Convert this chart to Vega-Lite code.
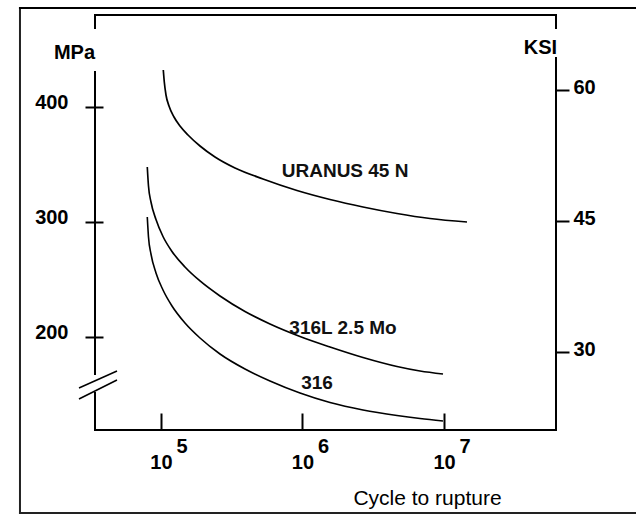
{
  "$schema": "https://vega.github.io/schema/vega-lite/v6.json",
  "autosize": {"type": "none"},
  "width": 461,
  "height": 430,
  "padding": {"left": 95, "top": 0, "right": 80, "bottom": 85},
  "background": "white",
  "config": {
    "view": {"stroke": null},
    "axis": {"grid": false, "domain": false, "labelFont": "Liberation Sans", "titleFont": "Liberation Sans", "labelColor": "#000", "titleColor": "#000", "tickColor": "#000", "tickWidth": 2, "labelFlush": false, "labelOverlap": false}
  },
  "datasets": {
    "curves": [
      {"alloy": "URANUS 45 N", "cycles": 103810, "MPa": 432.17},
      {"alloy": "URANUS 45 N", "cycles": 105520, "MPa": 421.74},
      {"alloy": "URANUS 45 N", "cycles": 108480, "MPa": 410.43},
      {"alloy": "URANUS 45 N", "cycles": 113910, "MPa": 400.87},
      {"alloy": "URANUS 45 N", "cycles": 123560, "MPa": 391.3},
      {"alloy": "URANUS 45 N", "cycles": 136230, "MPa": 383.48},
      {"alloy": "URANUS 45 N", "cycles": 155140, "MPa": 375.65},
      {"alloy": "URANUS 45 N", "cycles": 188660, "MPa": 366.09},
      {"alloy": "URANUS 45 N", "cycles": 240770, "MPa": 356.52},
      {"alloy": "URANUS 45 N", "cycles": 333430, "MPa": 346.96},
      {"alloy": "URANUS 45 N", "cycles": 525850, "MPa": 337.39},
      {"alloy": "URANUS 45 N", "cycles": 914400, "MPa": 327.39},
      {"alloy": "URANUS 45 N", "cycles": 1564400, "MPa": 319.57},
      {"alloy": "URANUS 45 N", "cycles": 2676300, "MPa": 313.04},
      {"alloy": "URANUS 45 N", "cycles": 4654000, "MPa": 307.39},
      {"alloy": "URANUS 45 N", "cycles": 7962100, "MPa": 303.04},
      {"alloy": "URANUS 45 N", "cycles": 14539000, "MPa": 300.0},
      {"alloy": "316L 2.5 Mo", "cycles": 80010, "MPa": 347.83},
      {"alloy": "316L 2.5 Mo", "cycles": 81590, "MPa": 331.3},
      {"alloy": "316L 2.5 Mo", "cycles": 84970, "MPa": 317.39},
      {"alloy": "316L 2.5 Mo", "cycles": 92180, "MPa": 302.17},
      {"alloy": "316L 2.5 Mo", "cycles": 103310, "MPa": 287.39},
      {"alloy": "316L 2.5 Mo", "cycles": 119600, "MPa": 274.35},
      {"alloy": "316L 2.5 Mo", "cycles": 147760, "MPa": 260.87},
      {"alloy": "316L 2.5 Mo", "cycles": 188660, "MPa": 248.7},
      {"alloy": "316L 2.5 Mo", "cycles": 261190, "MPa": 235.65},
      {"alloy": "316L 2.5 Mo", "cycles": 392300, "MPa": 222.17},
      {"alloy": "316L 2.5 Mo", "cycles": 589260, "MPa": 211.3},
      {"alloy": "316L 2.5 Mo", "cycles": 960140, "MPa": 200.43},
      {"alloy": "316L 2.5 Mo", "cycles": 1564400, "MPa": 191.3},
      {"alloy": "316L 2.5 Mo", "cycles": 2676300, "MPa": 182.17},
      {"alloy": "316L 2.5 Mo", "cycles": 4654000, "MPa": 174.35},
      {"alloy": "316L 2.5 Mo", "cycles": 6766800, "MPa": 170.43},
      {"alloy": "316L 2.5 Mo", "cycles": 9838600, "MPa": 167.83},
      {"alloy": "316", "cycles": 80010, "MPa": 304.35},
      {"alloy": "316", "cycles": 81590, "MPa": 286.96},
      {"alloy": "316", "cycles": 84970, "MPa": 272.17},
      {"alloy": "316", "cycles": 92180, "MPa": 255.65},
      {"alloy": "316", "cycles": 103310, "MPa": 240.87},
      {"alloy": "316", "cycles": 119600, "MPa": 226.96},
      {"alloy": "316", "cycles": 147760, "MPa": 212.17},
      {"alloy": "316", "cycles": 188660, "MPa": 199.13},
      {"alloy": "316", "cycles": 261190, "MPa": 185.22},
      {"alloy": "316", "cycles": 392300, "MPa": 172.17},
      {"alloy": "316", "cycles": 589260, "MPa": 161.74},
      {"alloy": "316", "cycles": 960140, "MPa": 151.3},
      {"alloy": "316", "cycles": 1564400, "MPa": 143.04},
      {"alloy": "316", "cycles": 2676300, "MPa": 136.52},
      {"alloy": "316", "cycles": 4654000, "MPa": 131.74},
      {"alloy": "316", "cycles": 6766800, "MPa": 129.13},
      {"alloy": "316", "cycles": 9838600, "MPa": 126.96}
    ],
    "labels": [
      {"label": "URANUS 45 N", "cycles": 2000000, "MPa": 344.3},
      {"label": "316L 2.5 Mo", "cycles": 1933000, "MPa": 207.8},
      {"label": "316", "cycles": 1266000, "MPa": 160.0}
    ],
    "exponents": [
      {"exp": "5", "cycles": 100000, "MPa": 104.3},
      {"exp": "6", "cycles": 1000000, "MPa": 104.3},
      {"exp": "7", "cycles": 10000000, "MPa": 104.3}
    ],
    "outer": [
      {"cycles": 10081, "cycles2": 10081, "MPa": 486.0, "MPa2": 46.96},
      {"cycles": 10081, "cycles2": 250000000, "MPa": 486.0, "MPa2": 486.0},
      {"cycles": 10081, "cycles2": 250000000, "MPa": 46.96, "MPa2": 46.96}
    ],
    "inner": [
      {"cycles": 34170, "cycles2": 61870000, "MPa": 480, "MPa2": 480},
      {"cycles": 34170, "cycles2": 61870000, "MPa": 119.13, "MPa2": 119.13},
      {"cycles": 34170, "cycles2": 34170, "MPa": 480, "MPa2": 468.7},
      {"cycles": 34170, "cycles2": 34170, "MPa": 430.4, "MPa2": 167.8},
      {"cycles": 34170, "cycles2": 34170, "MPa": 151.3, "MPa2": 119.13}
    ],
    "breaks": [
      {"cycles": 26330, "cycles2": 48870, "MPa": 155.65, "MPa2": 170.4},
      {"cycles": 26330, "cycles2": 48870, "MPa": 146.1, "MPa2": 162.6}
    ],
    "rightAxis": [
      {"cycles": 61870000, "cycles2": 61870000, "KSI": 68.59, "KSI2": 67.1},
      {"cycles": 61870000, "cycles2": 61870000, "KSI": 63.66, "KSI2": 21.07},
      {"cycles": 10081, "cycles2": 250000000, "KSI": 69.39, "KSI2": 69.39}
    ]
  },
  "encoding": {
    "x": {"field": "cycles", "type": "quantitative", "scale": {"type": "log", "domain": [34170, 61870000], "nice": false},
      "axis": {"values": [100000, 1000000, 10000000], "orient": "bottom", "offset": -17, "tickSize": 17, "labelExpr": "'10'", "labelFontSize": 20, "labelFontWeight": "bold", "labelBaseline": "middle", "labelPadding": 32, "labelDx": -3,
        "title": "Cycle to rupture", "titleFontSize": 21, "titleFontWeight": "normal", "titleX": 332, "titleY": 85, "titleBaseline": "middle", "titleAlign": "center"}}
  },
  "layer": [
    {
      "encoding": {
        "y": {"field": "MPa", "type": "quantitative", "scale": {"domain": [119.13, 493.04], "nice": false, "zero": false},
          "axis": {"values": [200, 300, 400], "orient": "left", "offset": -8, "tickSize": 18, "labelFontSize": 20, "labelFontWeight": "bold", "labelPadding": 17, "labelBaseline": "middle", "labelOffset": -4,
            "title": "MPa", "titleAngle": 0, "titleFontSize": 20, "titleFontWeight": "bold", "titleX": -29, "titleY": 52, "titleAlign": "center", "titleBaseline": "middle"}}
      },
      "layer": [
        {
          "data": {"name": "outer"},
          "mark": {"type": "rule", "stroke": "#222", "strokeWidth": 2, "strokeCap": "square"},
          "encoding": {"x2": {"field": "cycles2"}, "y2": {"field": "MPa2"}}
        },
        {
          "data": {"name": "inner"},
          "mark": {"type": "rule", "stroke": "#000", "strokeWidth": 2, "strokeCap": "square"},
          "encoding": {"x2": {"field": "cycles2"}, "y2": {"field": "MPa2"}}
        },
        {
          "data": {"name": "breaks"},
          "mark": {"type": "rule", "stroke": "#000", "strokeWidth": 1.5},
          "encoding": {"x2": {"field": "cycles2"}, "y2": {"field": "MPa2"}}
        },
        {
          "data": {"name": "curves"},
          "mark": {"type": "line", "interpolate": "monotone", "color": "#000"},
          "encoding": {
            "detail": {"field": "alloy", "type": "nominal"},
            "strokeWidth": {"field": "alloy", "type": "nominal", "scale": {"domain": ["URANUS 45 N", "316L 2.5 Mo", "316"], "range": [1.7, 1.6, 3.2]}, "legend": null}
          }
        },
        {
          "data": {"name": "labels"},
          "mark": {"type": "text", "font": "Liberation Sans", "fontSize": 19, "fontWeight": "bold", "color": "#111", "align": "center", "baseline": "middle"},
          "encoding": {"text": {"field": "label"}}
        },
        {
          "data": {"name": "exponents"},
          "mark": {"type": "text", "font": "Liberation Sans", "fontSize": 20, "fontWeight": "bold", "color": "#000", "align": "center", "baseline": "middle", "dx": 21},
          "encoding": {"text": {"field": "exp"}}
        }
      ]
    },
    {
      "data": {"name": "rightAxis"},
      "mark": {"type": "rule", "stroke": "#000", "strokeWidth": 2, "strokeCap": "square"},
      "encoding": {
        "x2": {"field": "cycles2"},
        "y": {"field": "KSI", "type": "quantitative", "scale": {"domain": [21.07, 70.306], "nice": false, "zero": false},
          "axis": {"values": [30, 45, 60], "orient": "right", "tickSize": 13, "labelFontSize": 20, "labelFontWeight": "bold", "labelPadding": 4, "labelBaseline": "middle", "labelOffset": -3,
            "title": "KSI", "titleAngle": 0, "titleFontSize": 20, "titleFontWeight": "bold", "titleX": -16, "titleY": 47, "titleAlign": "center", "titleBaseline": "middle"}},
        "y2": {"field": "KSI2"}
      }
    }
  ],
  "resolve": {"scale": {"y": "independent"}, "axis": {"y": "independent"}}
}
